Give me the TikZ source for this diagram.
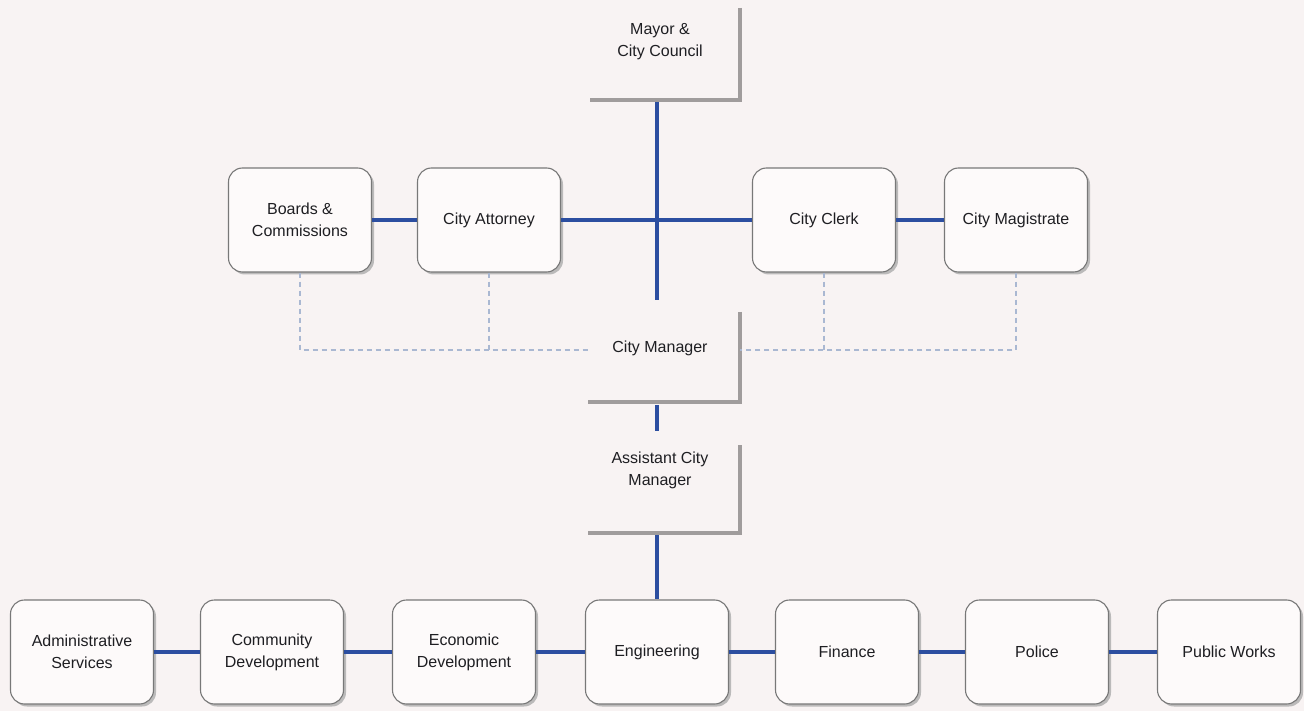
\documentclass[tikz,border=0pt]{standalone}
\usepackage{fontspec}
\setmainfont{Liberation Sans}
\usetikzlibrary{shadows}
\definecolor{bg}{RGB}{248,243,243}
\definecolor{boxfill}{RGB}{253,250,250}
\definecolor{boxline}{RGB}{120,120,120}
\definecolor{conn}{RGB}{44,78,160}
\definecolor{dashc}{RGB}{170,184,210}
\definecolor{lgray}{RGB}{160,156,156}
\definecolor{txtc}{RGB}{30,30,34}
\tikzset{
  rbox/.style={draw=boxline, line width=1.1pt, fill=boxfill, rounded corners=14pt,
    minimum width=143pt, minimum height=104pt, align=center, text=txtc,
    font=\fontsize{16}{22}\selectfont,
    drop shadow={shadow xshift=2.5pt, shadow yshift=-2.5pt, fill=gray!65, opacity=0.8}},
  ttext/.style={align=center, text=txtc, font=\fontsize{16}{22}\selectfont},
  lshape/.style={draw=lgray, line width=3.5pt},
  connline/.style={draw=conn, line width=3.5pt},
  dashline/.style={draw=dashc, line width=1.2pt, dash pattern=on 5pt off 4pt},
}
\begin{document}
\begin{tikzpicture}[x=1pt,y=-1pt]
\useasboundingbox (0,0) rectangle (1304,711);
\fill[bg] (0,0) rectangle (1304,711);

% L-shaped open boxes
\draw[lshape] (740,8) -- (740,100) -- (590,100);
\draw[lshape] (740,312) -- (740,402) -- (588,402);
\draw[lshape] (740,445) -- (740,533) -- (588,533);

\node[ttext] (mayor) at (660,42) {Mayor \&\\City Council};
\node[ttext] (mgr) at (660,348) {City Manager};
\node[ttext] (asst) at (660,470) {Assistant City\\Manager};

\coordinate (mayorB) at (657,102);
\coordinate (mgrT) at (657,300);
\coordinate (mgrB) at (657,405);
\coordinate (asstT) at (657,431);
\coordinate (asstB) at (657,535);
\coordinate (dl) at (590,350);
\coordinate (dr) at (740,350);

% upper row
\node[rbox] (boards) at (300,220) {Boards \&\\Commissions};
\node[rbox] (atty) at (489,220) {City Attorney};
\node[rbox] (clerk) at (824,220) {City Clerk};
\node[rbox] (magi) at (1016,220) {City Magistrate};

% bottom row
\node[rbox] (admin) at (82,652) {Administrative\\Services};
\node[rbox] (comm) at (272,652) {Community\\Development};
\node[rbox] (econ) at (464,652) {Economic\\Development};
\node[rbox] (eng) at (657,652) {Engineering};
\node[rbox] (fin) at (847,652) {Finance};
\node[rbox] (pol) at (1037,652) {Police};
\node[rbox] (pw) at (1229,652) {Public Works};

% dashed advisory lines
\draw[dashline] (boards.south) |- (dl);
\draw[dashline] (atty.south) -- (atty.south |- dl);
\draw[dashline] (magi.south) |- (dr);
\draw[dashline] (clerk.south) -- (clerk.south |- dr);

% solid connectors
\draw[connline] (mayorB) -- (mgrT);
\draw[connline] (atty.east) -- (clerk.west);
\draw[connline] (boards.east) -- (atty.west);
\draw[connline] (clerk.east) -- (magi.west);
\draw[connline] (mgrB) -- (asstT);
\draw[connline] (asstB) -- (eng.north);
\draw[connline] (admin.east) -- (comm.west);
\draw[connline] (comm.east) -- (econ.west);
\draw[connline] (econ.east) -- (eng.west);
\draw[connline] (eng.east) -- (fin.west);
\draw[connline] (fin.east) -- (pol.west);
\draw[connline] (pol.east) -- (pw.west);
\end{tikzpicture}
\end{document}
